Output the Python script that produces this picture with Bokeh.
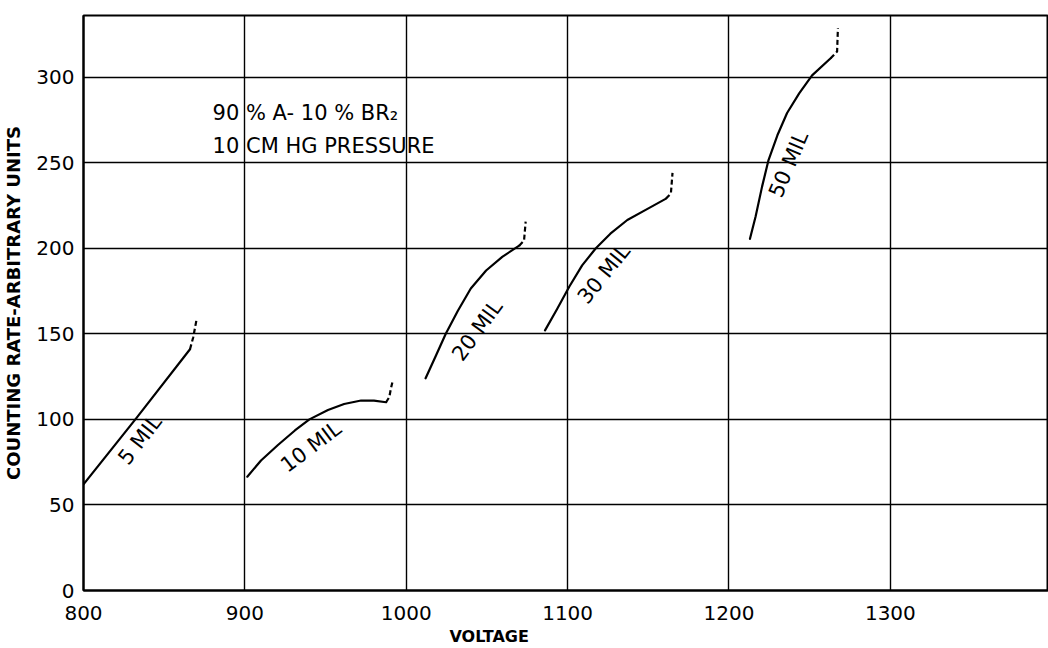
from bokeh.plotting import figure
from bokeh.models import Range1d, FixedTicker, Title, ColumnDataSource
from bokeh.core.properties import value
from bokeh.embed import file_html
from bokeh.resources import INLINE
import math

# ---- data ----
v5 = [800, 833, 866]
r5 = [62, 101, 141]
v5_dash = [866, 868, 870]
r5_dash = [141, 148, 158]

v10 = [901.5, 910, 920.5, 931, 940, 951.5, 961.5, 972, 980, 987.5]
r10 = [66.5, 76, 85, 93.5, 100, 105.5, 109, 111, 111, 110]
v10_dash = [987.5, 989.5, 990.5, 991.5]
r10_dash = [110, 113, 118, 122]

v20 = [1012, 1018.5, 1024.5, 1032, 1040, 1049.5, 1059.5, 1070]
r20 = [124, 137.5, 150, 163.5, 176.5, 187, 195, 201.5]
v20_dash = [1070, 1073, 1074]
r20_dash = [201.5, 204.5, 215.5]

v30 = [1086, 1093.5, 1101, 1109, 1117.5, 1126.5, 1137, 1149.5, 1161]
r30 = [152, 164.5, 177.5, 190, 200, 208.5, 216.5, 223, 229]
v30_dash = [1161, 1164, 1165]
r30_dash = [229, 232, 244]

v50 = [1213, 1216.5, 1220.5, 1224.5, 1230, 1236, 1243.5, 1251.5, 1263]
r50 = [205.5, 218.5, 236, 251.5, 266, 279, 290.5, 301, 311]
v50_dash = [1263, 1267, 1267.5]
r50_dash = [311, 315, 328.5]

curve_names = ["5 MIL", "10 MIL", "20 MIL", "30 MIL", "50 MIL"]
x_ticks = [800, 900, 1000, 1100, 1200, 1300]
y_ticks = [0, 50, 100, 150, 200, 250, 300]
note_lines = ["90 % A- 10 % BR\u2082", "10 CM HG PRESSURE"]

# ---- layout constants ----
label_x = [835, 941, 1044, 1122.5, 1237]
label_y = [88, 84, 152, 185, 249]
label_deg = [52, 37, 54, 51, 67]

FONT = "DejaVu Sans"

p = figure(width=1048, height=648, output_backend="svg", toolbar_location=None,
           x_range=Range1d(800, 1398), y_range=Range1d(0, 336),
           min_border_left=82, min_border_right=0, min_border_top=15,
           min_border_bottom=58)

p.background_fill_color = "white"
p.border_fill_color = "white"
p.outline_line_color = "black"
p.outline_line_width = 2

for ax in (p.xaxis[0], p.yaxis[0]):
    ax.axis_line_width = 2
    ax.axis_line_color = "black"
    ax.major_tick_line_color = None
    ax.minor_tick_line_color = None
    ax.major_label_text_font = FONT
    ax.major_label_text_font_size = "20px"
    ax.major_label_text_color = "black"

p.xaxis.ticker = FixedTicker(ticks=x_ticks)
p.yaxis.ticker = FixedTicker(ticks=y_ticks)
p.xaxis.major_label_standoff = 9
p.yaxis.major_label_standoff = 3

p.yaxis.axis_label = "COUNTING RATE-ARBITRARY UNITS"
p.yaxis.axis_label_text_font = FONT
p.yaxis.axis_label_text_font_size = "18px"
p.yaxis.axis_label_text_font_style = "bold"
p.yaxis.axis_label_text_color = "black"
p.yaxis.axis_label_standoff = 9

p.xgrid.ticker = FixedTicker(ticks=x_ticks)
p.ygrid.ticker = FixedTicker(ticks=y_ticks)
for g in (p.xgrid[0], p.ygrid[0]):
    g.grid_line_color = "black"
    g.grid_line_width = 1.4
    g.grid_line_alpha = 1.0

p.add_layout(Title(text="VOLTAGE", align="left", offset=366,
                   text_font=FONT, text_font_size="16px",
                   text_font_style="bold", text_color="black",
                   standoff=4), "below")

solid = [(v5, r5), (v10, r10), (v20, r20), (v30, r30), (v50, r50)]
dashed = [(v5_dash, r5_dash), (v10_dash, r10_dash), (v20_dash, r20_dash),
          (v30_dash, r30_dash), (v50_dash, r50_dash)]
for xs, ys in solid:
    p.line(xs, ys, line_color="black", line_width=2.2, line_join="round", line_cap="round")
for xs, ys in dashed:
    p.line(xs, ys, line_color="black", line_width=2.2, line_dash="5 3", line_join="round")

src = ColumnDataSource(dict(x=label_x, y=label_y, t=curve_names,
                            a=[math.radians(d) for d in label_deg]))
p.text(x="x", y="y", text="t", angle="a", source=src,
       text_font=value(FONT), text_font_size="21px", text_color="black",
       text_align="center", text_baseline="middle")

p.text(x=[880, 880], y=[279, 260], text=note_lines,
       text_font=value(FONT), text_font_size="21px", text_color="black",
       text_align="left", text_baseline="alphabetic")

open("out.html", "w").write(file_html(p, INLINE))
